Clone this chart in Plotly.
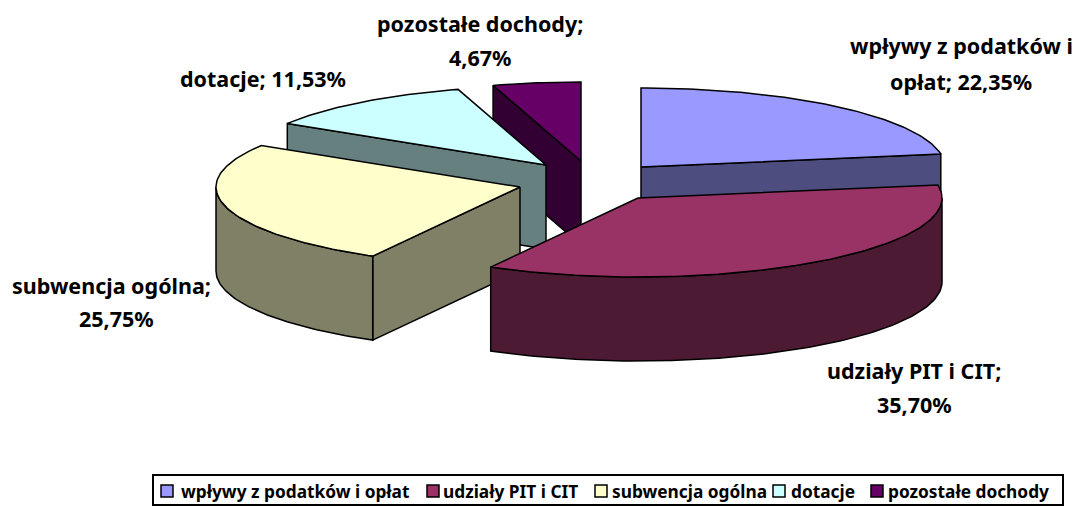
import math
import plotly.graph_objects as go

# --- data ---
categories = ["wpływy z podatków i opłat", "udziały PIT i CIT", "subwencja ogólna", "dotacje", "pozostałe dochody"]
shares = [22.35, 35.70, 25.75, 11.53, 4.67]

# --- styles / layout ---
top_colors = ["#9999FF", "#993366", "#FFFFCC", "#CCFFFF", "#660066"]
side_colors = ["#4D4D80", "#4D1A33", "#808066", "#668080", "#330033"]
centres = [(641, 167), (638, 198), (520, 187), (546, 165), (581, 161)]
RX, RY, DEPTH = 304, 79, 84
FONT = "Noto Sans, sans-serif"
draw_order = [4, 3, 2, 0, 1]

label_lines = [
    [("wpływy z podatków i", 961, 45), ("opłat; {}", 961, 81)],
    [("udziały PIT i CIT;", 914, 370), ("{}", 914, 404)],
    [("subwencja ogólna;", 111, 285), ("{}", 116, 318)],
    [("dotacje; {}", 263, 78)],
    [("pozostałe dochody;", 480, 23), ("{}", 480, 57)],
]
legend_swatch_x = [167, 433, 601, 779, 877]
legend_text_x = [179, 441, 610, 789, 886]
LEGEND_Y = 491


def pt(c, deg, drop=0.0):
    a = math.radians(deg)
    return c[0] + RX * math.sin(a), c[1] - RY * math.cos(a) + drop


def arc(c, a0, a1, drop=0.0, step=1.0):
    n = max(2, int(abs(a1 - a0) / step) + 1)
    return [pt(c, a0 + (a1 - a0) * i / (n - 1), drop) for i in range(n)]


def poly(fig, pts, color, name):
    xs = [p[0] for p in pts] + [pts[0][0]]
    ys = [p[1] for p in pts] + [pts[0][1]]
    fig.add_trace(go.Scatter(x=xs, y=ys, mode="lines", fill="toself", fillcolor=color,
                             line=dict(color="#000000", width=1.5), name=name,
                             showlegend=False, hoverinfo="name"))


fig = go.Figure()

total = sum(shares)
angles = [0.0]
for s in shares:
    angles.append(angles[-1] + 360.0 * s / total)

for i in draw_order:
    c, a0, a1 = centres[i], angles[i], angles[i + 1]
    top, side, name = top_colors[i], side_colors[i], categories[i]
    # radial walls facing the viewer
    if math.sin(math.radians(a0)) < -1e-6:
        p = pt(c, a0)
        poly(fig, [c, p, (p[0], p[1] + DEPTH), (c[0], c[1] + DEPTH)], side, name)
    if math.sin(math.radians(a1)) > 1e-6:
        p = pt(c, a1)
        poly(fig, [c, p, (p[0], p[1] + DEPTH), (c[0], c[1] + DEPTH)], side, name)
    # outer rim facing the viewer
    r0, r1 = max(a0, 90.0), min(a1, 270.0)
    if r1 > r0:
        poly(fig, arc(c, r0, r1) + arc(c, r1, r0, DEPTH), side, name)
    # top face
    poly(fig, [c] + arc(c, a0, a1), top, name)

annotations = []
for lines, share in zip(label_lines, shares):
    val = f"{share:.2f}".replace(".", ",") + "%"
    for txt, x, y in lines:
        annotations.append(dict(x=x, y=y, xref="x", yref="y", text=txt.format(val), showarrow=False,
                                xanchor="center", yanchor="middle",
                                font=dict(family=FONT, size=21.5, color="#000000", weight="bold")))

# legend
for i, name in enumerate(categories):
    fig.add_trace(go.Scatter(x=[legend_swatch_x[i]], y=[LEGEND_Y], mode="markers",
                             marker=dict(symbol="square", size=12, color=top_colors[i],
                                         line=dict(color="#000000", width=1.5)),
                             name=name, showlegend=False, hoverinfo="name"))
    annotations.append(dict(x=legend_text_x[i], y=LEGEND_Y, xref="x", yref="y", text=name, showarrow=False,
                            xanchor="left", yanchor="middle",
                            font=dict(family=FONT, size=17.3, color="#000000", weight="bold")))

fig.update_layout(
    width=1078, height=506, margin=dict(l=0, r=0, t=0, b=0),
    paper_bgcolor="#FFFFFF", plot_bgcolor="#FFFFFF", showlegend=False,
    xaxis=dict(range=[0, 1078], visible=False, fixedrange=True),
    yaxis=dict(range=[506, 0], visible=False, fixedrange=True),
    annotations=annotations,
    shapes=[dict(type="rect", xref="x", yref="y", x0=153, x1=1063, y0=475, y1=505,
                 line=dict(color="#000000", width=2), fillcolor="rgba(0,0,0,0)")],
)

fig.write_html("out.html", config={"displayModeBar": False},
               post_script="document.body.style.margin='0';document.documentElement.style.overflow='hidden';")
